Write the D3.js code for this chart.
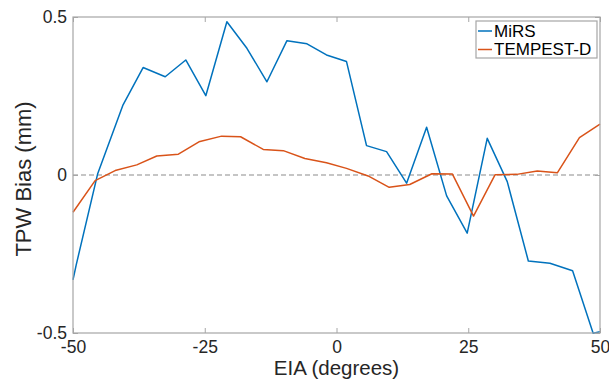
<!DOCTYPE html>
<html>
<head>
<meta charset="utf-8">
<script src="https://cdn.jsdelivr.net/npm/d3@7"></script>
<style>
  body { margin: 0; background: #fff; }
  svg { display: block; font-family: "Liberation Sans", Arial, Helvetica, sans-serif; }
</style>
</head>
<body>
<div id="chart"></div>
<script>

// data
var seriesNames = [ 'MiRS', 'TEMPEST-D' ];
var seriesColors = [ '#0072bd', '#d95319' ];

var mirsEia = [ -50, -49.4, -45.3, -40.5, -36.7, -32.5, -28.6, -24.8, -20.8, -17.0, -13.2, -9.4, -5.6,
    -1.9, 1.9, 5.7, 9.5, 13.3, 17.1, 20.9, 24.8, 28.6, 32.4, 36.4, 40.5, 44.8, 48.7, 50 ];
var mirsBias = [ -0.332, -0.285, 0.005, 0.222, 0.340, 0.311, 0.364, 0.251, 0.485, 0.401, 0.295, 0.425, 0.415,
    0.380, 0.359, 0.093, 0.074, -0.026, 0.151, -0.066, -0.184, 0.116, -0.021, -0.272, -0.279, -0.303, -0.501, -0.496 ];

var tempestEia = [ -50, -45.8, -42, -37.9, -34.1, -30, -26.1, -21.8, -18.2, -13.9, -10.1, -6, -1.9,
    1.9, 6, 10, 13.9, 18.1, 22, 26, 30.1, 34.2, 38.1, 41.9, 46.1, 50 ];
var tempestBias = [ -0.118, -0.018, 0.014, 0.032, 0.060, 0.066, 0.105, 0.123, 0.121, 0.081, 0.077, 0.052, 0.039,
    0.021, -0.003, -0.039, -0.030, 0.004, 0.003, -0.130, 0.001, 0.002, 0.013, 0.007, 0.118, 0.161 ];

var xTicks = [ -50, -25, 0, 25, 50 ];
var yTicks = [ -0.5, 0, 0.5 ];

var width = 609,
    height = 381,
    margin = { top: 17, right: 9, bottom: 48, left: 73 };

var innerW = width - margin.left - margin.right,
    innerH = height - margin.top - margin.bottom;

var axisColor = '#a6a6a6';

var svg = d3.select('#chart').append('svg')
    .attr('width', width)
    .attr('height', height);

var g = svg.append('g')
    .attr('transform', 'translate(' + margin.left + ',' + margin.top + ')');

var x = d3.scaleLinear().domain([ -50, 50 ]).range([ 0, innerW ]);
var y = d3.scaleLinear().domain([ -0.5, 0.5 ]).range([ innerH, 0 ]);

// zero reference line
g.append('line')
    .attr('x1', 0)
    .attr('x2', innerW)
    .attr('y1', y(0))
    .attr('y2', y(0))
    .attr('stroke', '#8c8c8c')
    .attr('stroke-width', 1.2)
    .attr('stroke-dasharray', '5,3');

// series
var series = [
    { xs: mirsEia, ys: mirsBias },
    { xs: tempestEia, ys: tempestBias }
];

var line = d3.line()
    .x(function (d) { return x(d[0]); })
    .y(function (d) { return y(d[1]); });

series.forEach(function (s, i) {

    var pts = s.xs.map(function (v, j) { return [ v, s.ys[j] ]; });

    g.append('path')
        .datum(pts)
        .attr('fill', 'none')
        .attr('stroke', seriesColors[i])
        .attr('stroke-width', 1.5)
        .attr('stroke-linejoin', 'round')
        .attr('d', line);

});

// axes (matlab style: ticks inside, box all round)
var plain = function (d) { return String(d); };

function styleAxis(sel) {
    sel.select('.domain').remove();
    sel.selectAll('.tick line').attr('stroke', axisColor);
    sel.selectAll('.tick text')
        .attr('fill', '#262626')
        .style('font-size', '17.5px');
}

g.append('g')
    .attr('transform', 'translate(0,' + innerH + ')')
    .call(d3.axisBottom(x).tickValues(xTicks).tickSizeInner(-5).tickSizeOuter(0).tickPadding(8).tickFormat(plain))
    .call(styleAxis);

g.append('g')
    .call(d3.axisTop(x).tickValues(xTicks).tickSizeInner(-5).tickSizeOuter(0).tickFormat(''))
    .call(styleAxis);

g.append('g')
    .call(d3.axisLeft(y).tickValues(yTicks).tickSizeInner(-5).tickSizeOuter(0).tickPadding(6).tickFormat(plain))
    .call(styleAxis);

g.append('g')
    .attr('transform', 'translate(' + innerW + ',0)')
    .call(d3.axisRight(y).tickValues(yTicks).tickSizeInner(-5).tickSizeOuter(0).tickFormat(''))
    .call(styleAxis);

g.append('rect')
    .attr('width', innerW)
    .attr('height', innerH)
    .attr('fill', 'none')
    .attr('stroke', axisColor)
    .attr('stroke-width', 1.2);

// axis labels
svg.append('text')
    .attr('x', margin.left + innerW / 2)
    .attr('y', 375)
    .attr('text-anchor', 'middle')
    .attr('fill', '#262626')
    .style('font-size', '20.5px')
    .text('EIA (degrees)');

svg.append('text')
    .attr('transform', 'translate(31,' + 179 + ') rotate(-90)')
    .attr('text-anchor', 'middle')
    .attr('fill', '#262626')
    .style('font-size', '22px')
    .text('TPW Bias (mm)');

// legend
var legend = svg.append('g')
    .attr('transform', 'translate(476,21)');

legend.append('rect')
    .attr('width', 121)
    .attr('height', 37)
    .attr('fill', '#fff')
    .attr('stroke', axisColor)
    .attr('stroke-width', 1.2);

seriesNames.forEach(function (name, i) {

    var ly = 10 + i * 18.5;

    legend.append('line')
        .attr('x1', 2)
        .attr('x2', 16)
        .attr('y1', ly)
        .attr('y2', ly)
        .attr('stroke', seriesColors[i])
        .attr('stroke-width', 1.5);

    legend.append('text')
        .attr('x', 18)
        .attr('y', ly)
        .attr('dy', '0.35em')
        .attr('fill', '#000')
        .style('font-size', '17px')
        .text(name);

});

</script>
</body>
</html>
